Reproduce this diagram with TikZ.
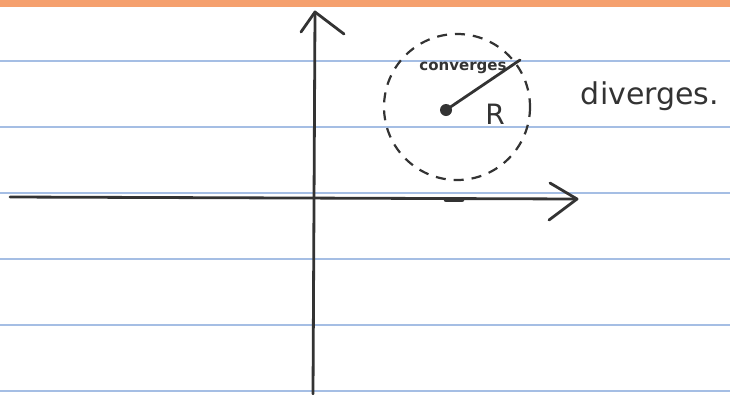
\documentclass[tikz,border=0pt]{standalone}
\usepackage{fontspec}
\newfontfamily\handfont{DejaVu Sans}
\definecolor{rulecol}{RGB}{165,190,228}
\definecolor{bandcol}{RGB}{245,160,110}
\begin{document}
\begin{tikzpicture}[x=1pt,y=-1pt,
  ruled/.style={draw=rulecol, line width=1.3pt},
  ink/.style={draw=black!80, line width=2.8pt, line cap=round, line join=round},
  label/.style={font=\handfont, text=black!80, inner sep=0pt}]
\useasboundingbox[fill=white] (0,0) rectangle (730,394);
% orange band at top
\fill[bandcol] (0,0) rectangle (730,7);
% ruled lines
\foreach \yy in {61,127,193,259,325,391}
  \draw[ruled] (0,\yy) -- (730,\yy);
% axes
\coordinate (xl) at (10,197);
\coordinate (xr) at (577,199);
\coordinate (yb) at (313,394);
\coordinate (yt) at (315,12);
\coordinate (xa1) at (550,183);
\coordinate (xa2) at (549,220);
\coordinate (ya1) at (301,32);
\coordinate (ya2) at (344,34);
\draw[ink] (xl) -- (xr);
\draw[ink] (xa1) -- (xr) -- (xa2);
\draw[ink] (yb) -- (yt);
\draw[ink] (ya1) -- (yt) -- (ya2);
\draw[ink, line width=4.5pt] (446,200) -- (462,200);
% dashed circle
\coordinate (c) at (457,107);
\draw[draw=black!80, line width=2.2pt, dash pattern=on 10pt off 8pt] (c) circle[radius=73];
% radius
\coordinate (dot) at (446,110);
\coordinate (rend) at (520,60);
\fill[black!80] (dot) circle[radius=6];
\draw[ink] (dot) -- (rend);
\node[label, font=\handfont\bfseries\fontsize{15}{15}\selectfont] (conv) at (463,68) {converges};
\node[label, font=\handfont\fontsize{28}{28}\selectfont] (R) at (495,114) {R};
\node[label, font=\handfont\fontsize{30}{30}\selectfont] (div) at (650,96) {diverges.};
\end{tikzpicture}
\end{document}
